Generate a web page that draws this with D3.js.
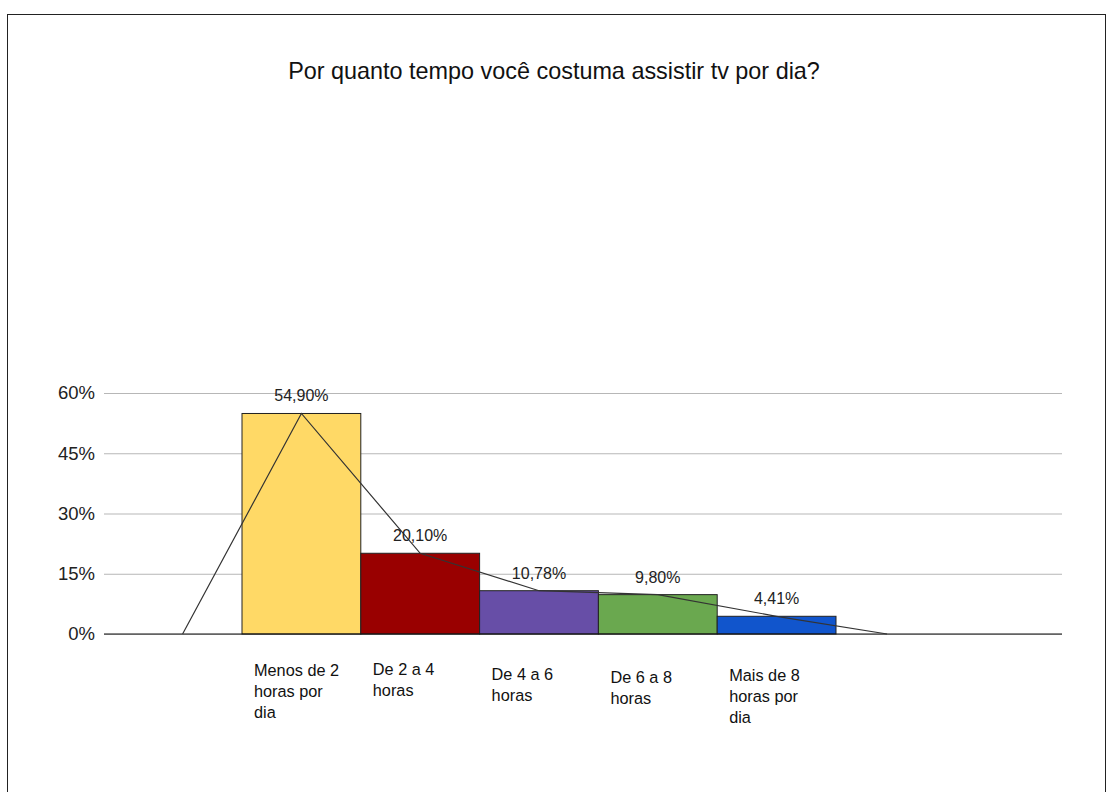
<!DOCTYPE html>
<html>
<head>
<meta charset="utf-8">
<script src="https://cdn.jsdelivr.net/npm/d3@7"></script>
<style>
  html, body { margin: 0; padding: 0; background: #fff; }
  svg { display: block; font-family: "Liberation Sans", Arial, sans-serif; }
</style>
</head>
<body>
<svg id="chart" width="1108" height="792"></svg>
<script>
// Survey answers: daily TV time
const categories = [
  "Menos de 2 horas por dia",
  "De 2 a 4 horas",
  "De 4 a 6 horas",
  "De 6 a 8 horas",
  "Mais de 8 horas por dia"
];
const values = [54.90, 20.10, 10.78, 9.80, 4.41];
const valueLabels = ["54,90%", "20,10%", "10,78%", "9,80%", "4,41%"];
const colors = ["#ffd966", "#990000", "#674ea7", "#6aa84f", "#1155cc"];
const yTicks = [0, 15, 30, 45, 60];
const title = "Por quanto tempo você costuma assistir tv por dia?";
// category label wrapping (lines) and small vertical offsets
const catLines = [
  ["Menos de 2", "horas por", "dia"],
  ["De 2 a 4", "horas"],
  ["De 4 a 6", "horas"],
  ["De 6 a 8", "horas"],
  ["Mais de 8", "horas por", "dia"]
];
const catShift = [0, -1, 4, 7, 5];

const svg = d3.select("#chart");

// outer frame
svg.append("rect")
  .attr("x", 7.5).attr("y", 14.5)
  .attr("width", 1098).attr("height", 800)
  .attr("fill", "#fff").attr("stroke", "#222").attr("stroke-width", 1);

svg.append("text")
  .attr("x", 554).attr("y", 79)
  .attr("text-anchor", "middle")
  .attr("font-size", 23.4).attr("fill", "#111")
  .text(title);

const plot = { left: 104, right: 1062, top: 393, bottom: 634 };

const y = d3.scaleLinear().domain([0, 60]).range([plot.bottom, plot.top]);
const x = d3.scaleBand().domain(categories).range([242, 836]).padding(0);
const bw = x.bandwidth();

// gridlines and tick labels
const yAxis = d3.axisLeft(y).tickValues(yTicks).tickSize(-(plot.right - plot.left))
  .tickFormat(d => d + "%").tickPadding(9);
const gy = svg.append("g").attr("transform", `translate(${plot.left},0)`).call(yAxis);
gy.select(".domain").remove();
gy.selectAll(".tick line").attr("stroke", "#b7b7b7").attr("stroke-width", 1);
gy.selectAll(".tick text").attr("font-size", 18.5).attr("fill", "#222")
  .attr("font-family", "Liberation Sans, Arial, sans-serif");

// bars
svg.append("g").selectAll("rect")
  .data(categories)
  .join("rect")
  .attr("x", d => x(d))
  .attr("y", (d, i) => y(values[i]))
  .attr("width", bw)
  .attr("height", (d, i) => y(0) - y(values[i]))
  .attr("fill", (d, i) => colors[i])
  .attr("stroke", "#222").attr("stroke-width", 1);

// baseline
svg.append("line")
  .attr("x1", plot.left).attr("x2", plot.right)
  .attr("y1", y(0)).attr("y2", y(0))
  .attr("stroke", "#111").attr("stroke-width", 1.2);

// frequency polygon through bar tops, closed to zero outside the bins
const polyPts = [[x(categories[0]) - bw / 2, 0]]
  .concat(categories.map((c, i) => [x(c) + bw / 2, values[i]]))
  .concat([[x(categories[categories.length - 1]) + bw * 1.43, 0]]);
svg.append("path")
  .datum(polyPts)
  .attr("fill", "none").attr("stroke", "#333").attr("stroke-width", 1.2)
  .attr("d", d3.line().x(d => d[0]).y(d => y(d[1])));

// value labels
svg.append("g").selectAll("text")
  .data(categories)
  .join("text")
  .attr("x", d => x(d) + bw / 2)
  .attr("y", (d, i) => y(values[i]) - 12)
  .attr("text-anchor", "middle")
  .attr("font-size", 16).attr("fill", "#222")
  .text((d, i) => valueLabels[i]);

// category labels
const cg = svg.append("g");
categories.forEach((c, i) => {
  const t = cg.append("text")
    .attr("x", x(c) + 12)
    .attr("y", 676 + catShift[i])
    .attr("font-size", 16.3).attr("fill", "#111");
  catLines[i].forEach((ln, j) => {
    t.append("tspan").attr("x", x(c) + 12).attr("dy", j === 0 ? 0 : 21).text(ln);
  });
});
</script>
</body>
</html>
